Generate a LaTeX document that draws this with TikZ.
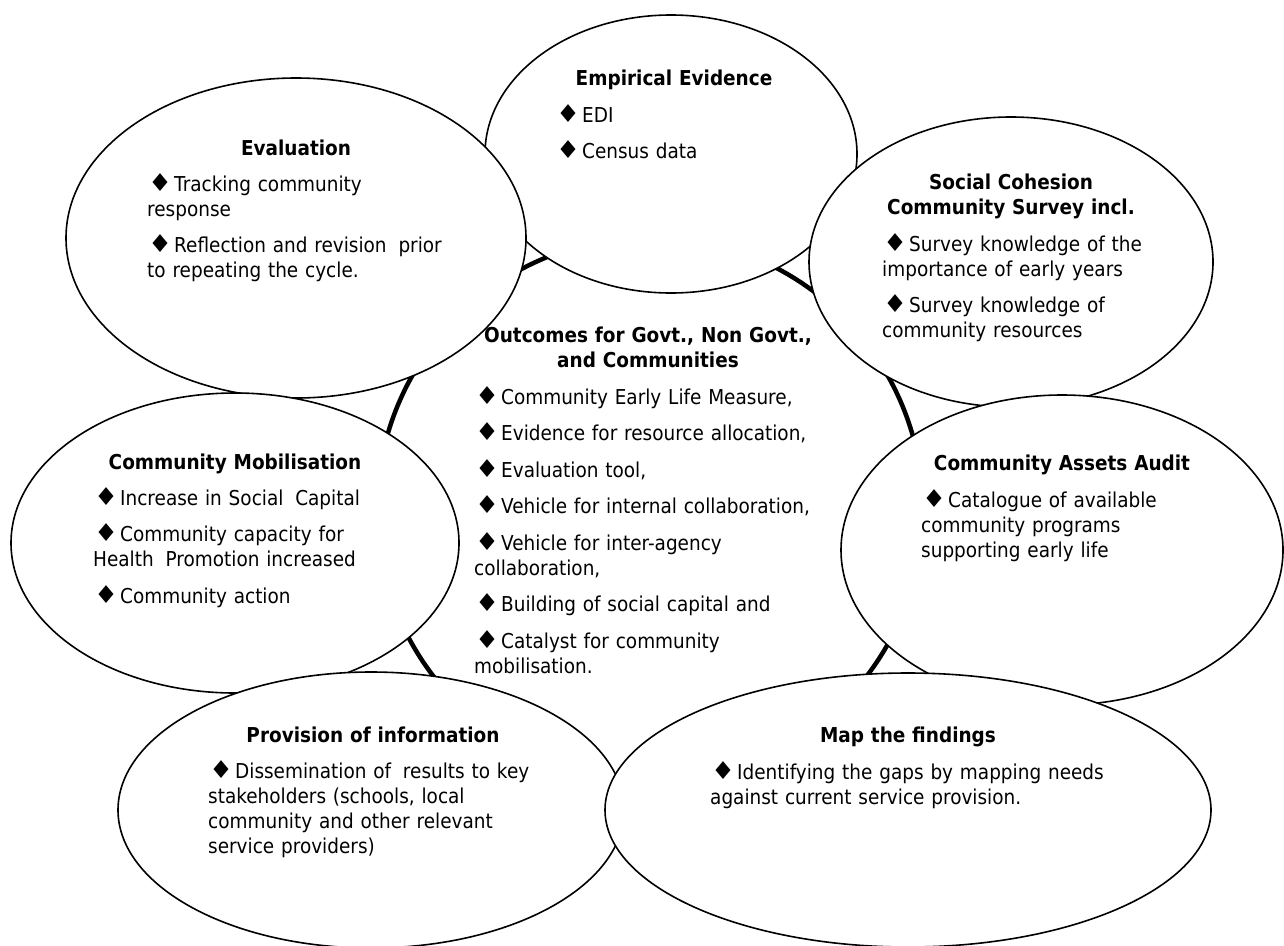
\documentclass[tikz,border=0pt]{standalone}
\usepackage{fontspec}
\setmainfont{DejaVu Sans}[FakeStretch=0.9]
\newcommand{\bul}{\hspace*{1pt}\scalebox{1.45}[1.2]{♦}\hspace{2pt}}

\tikzset{
  bubble/.style = {draw, fill=white, line width=1.6pt},
  ring/.style = {line width=4.5pt},
  heading/.style = {anchor=base, align=center, text width=460pt, inner sep=0pt,
                    font=\fontsize{20.5}{25}\selectfont\bfseries},
  items/.style = {anchor=base west, align=left, text width=480pt, inner sep=0pt,
                  font=\fontsize{20.5}{25}\selectfont},
}

\begin{document}
\begin{tikzpicture}[x=1pt, y=-1pt]
        \useasboundingbox (0, 0) rectangle (1284, 945);

        % the cycle behind the bubbles
        \draw [ring] (650, 510) circle (273);

        % bubbles
        \draw [bubble] (671, 154) ellipse [x radius=186, y radius=139];
        \draw [bubble] (1011, 262) ellipse [x radius=202, y radius=145];
        \draw [bubble] (296, 238) ellipse [x radius=230, y radius=160];
        \draw [bubble] (235, 543) ellipse [x radius=224, y radius=150];
        \draw [bubble] (1062, 550) ellipse [x radius=221, y radius=155];
        \draw [bubble] (371, 810) ellipse [x radius=253, y radius=138];
        \draw [bubble] (908, 810) ellipse [x radius=303, y radius=137];

        % empirical evidence
        \node [heading] (empT) at (674, 85) {Empirical Evidence};
        \node [items] (empL) at (555, 122) {\bul EDI\\[11.5pt]
          \bul Census data};

        % evaluation
        \node [heading] (evalT) at (296, 155) {Evaluation};
        \node [items] (evalL) at (147, 191) {\bul Tracking community\\
          response\\[11.5pt]
          \bul Reflection and revision\hspace{5pt} prior\\
          to repeating the cycle.};

        % social cohesion
        \node [heading] (socT) at (1011, 189) {Social Cohesion\\ Community Survey incl.};
        \node [items] (socL) at (882, 251) {\bul Survey knowledge of the\\
          importance of early years\\[11.5pt]
          \bul Survey knowledge of\\
          community resources};

        % community assets
        \node [heading] (assetT) at (1062, 470) {Community Assets Audit};
        \node [items] (assetL) at (921, 507) {\bul Catalogue of available\\
          community programs\\
          supporting early life};

        % mobilisation
        \node [heading] (mobT) at (235, 469) {Community Mobilisation};
        \node [items] (mobL) at (93, 505) {\bul Increase in Social\hspace{5pt} Capital\\[11.5pt]
          \bul Community capacity for\\
          Health\hspace{5pt} Promotion increased\\[11.5pt]
          \bul Community action};

        % outcomes in the middle
        \node [heading] (outT) at (648, 342) {Outcomes for Govt., Non Govt.,\\ and Communities};
        \node [items] (outL) at (474, 404) {\bul Community Early Life Measure,\\[11.5pt]
          \bul Evidence for resource allocation,\\[11.5pt]
          \bul Evaluation tool,\\[11.5pt]
          \bul Vehicle for internal collaboration,\\[11.5pt]
          \bul Vehicle for inter-agency\\
          collaboration,\\[11.5pt]
          \bul Building of social capital and\\[11.5pt]
          \bul Catalyst for community\\
          mobilisation.};

        % provision of information
        \node [heading] (provT) at (373, 742) {Provision of information};
        \node [items] (provL) at (208, 778) {\bul Dissemination of\hspace{5pt} results to key\\
          stakeholders (schools, local\\
          community and other relevant\\
          service providers)};

        % map the findings
        \node [heading] (mapT) at (908, 742) {Map the findings};
        \node [items] (mapL) at (710, 779) {\bul Identifying the gaps by mapping needs\\
          against current service provision.};

\end{tikzpicture}
\end{document}
